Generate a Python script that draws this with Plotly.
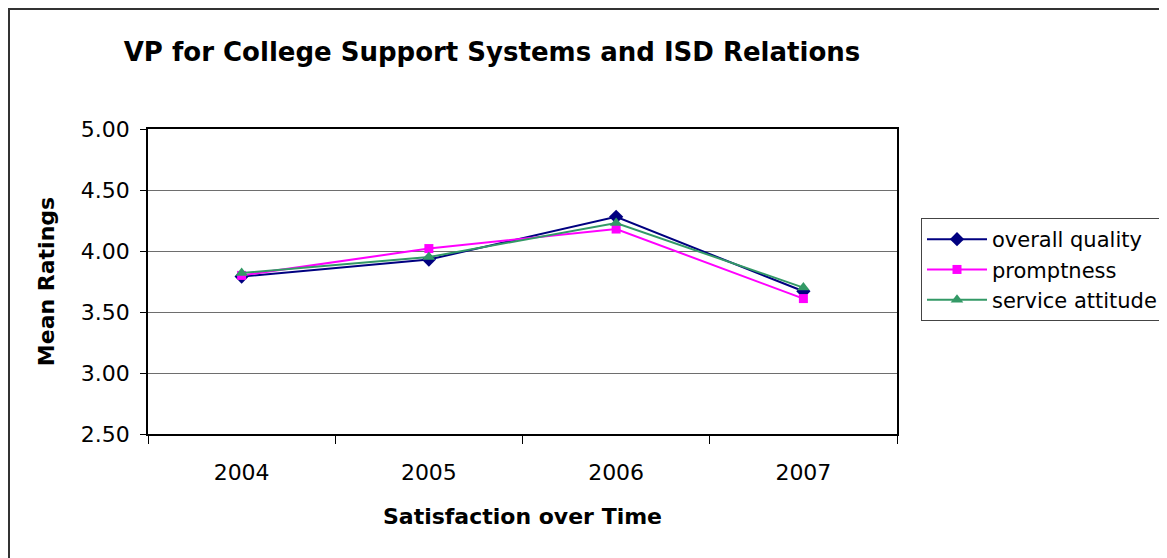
import plotly.graph_objects as go

# data
years = ["2004", "2005", "2006", "2007"]
overall_quality = [3.79, 3.93, 4.28, 3.67]
promptness = [3.80, 4.02, 4.18, 3.61]
service_attitude = [3.82, 3.95, 4.23, 3.70]
y_ticks = [2.5, 3.0, 3.5, 4.0, 4.5, 5.0]

W, H = 1167, 558
OFF = 8  # page body margin
L, R, T, B = 148 - OFF, 897 - OFF, 129 - OFF, 434 - OFF   # plot area in pixels
pw, ph = R - L, B - T

def px_x(x):
    return (x - OFF - L) / pw

def px_y(y):
    return (B - (y - OFF)) / ph

FONT = "DejaVu Sans, Arial"

fig = go.Figure()
fig.add_trace(go.Scatter(x=years, y=overall_quality, name="overall quality", mode="lines+markers",
                         line=dict(color="#000080", width=2),
                         marker=dict(symbol="diamond", size=11, color="#000080")))
fig.add_trace(go.Scatter(x=years, y=promptness, name="promptness", mode="lines+markers",
                         line=dict(color="#FF00FF", width=2),
                         marker=dict(symbol="square", size=9, color="#FF00FF")))
fig.add_trace(go.Scatter(x=years, y=service_attitude, name="service attitude", mode="lines+markers",
                         line=dict(color="#339966", width=2),
                         marker=dict(symbol="triangle-up", size=11, color="#339966")))

# outer chart border (runs off the right and bottom edges)
fig.add_shape(type="rect", xref="paper", yref="paper",
              x0=px_x(OFF + 1), x1=px_x(1250), y0=px_y(650), y1=px_y(OFF + 1),
              line=dict(color="#333333", width=2), layer="below")

fig.update_layout(
    width=W, height=H,
    margin=dict(l=L, r=W - R, t=T, b=H - B),
    paper_bgcolor="white", plot_bgcolor="white",
    font=dict(family=FONT, color="black", size=22),
    title=dict(text="<b>VP for College Support Systems and ISD Relations</b>",
               xref="container", yref="container", x=(492 - OFF) / W, y=1 - (52 - OFF) / H,
               xanchor="center", yanchor="middle", font=dict(size=26)),
    xaxis=dict(type="category", tickson="boundaries", ticks="outside", ticklen=8,
               tickcolor="black", showline=True, linecolor="black", linewidth=1.5, mirror=True,
               showgrid=False, range=[-0.5, 3.5], ticklabelstandoff=18,
               title=dict(text="<b>Satisfaction over Time</b>", standoff=24, font=dict(size=22))),
    yaxis=dict(range=[2.5, 5.0], tickvals=y_ticks, tickformat=".2f", ticks="outside", ticklen=6,
               tickcolor="black", showline=True, linecolor="black", linewidth=1.5, mirror=True,
               showgrid=True, gridcolor="#6e6e6e", gridwidth=1, zeroline=False,
               ticklabelstandoff=6,
               title=dict(text="<b>Mean Ratings</b>", standoff=20, font=dict(size=22))),
    legend=dict(x=px_x(921), y=px_y(218), xanchor="left", yanchor="top",
                bordercolor="#444444", borderwidth=1, bgcolor="white",
                font=dict(size=21), tracegroupgap=0, itemwidth=60),
    showlegend=True,
)

fig.write_html("out.html")
